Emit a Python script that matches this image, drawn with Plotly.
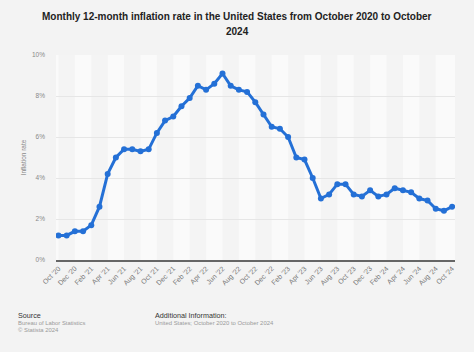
import plotly.graph_objects as go

months = ["Oct '20","Nov '20","Dec '20","Jan '21","Feb '21","Mar '21","Apr '21","May '21","Jun '21","Jul '21","Aug '21","Sep '21",
          "Oct '21","Nov '21","Dec '21","Jan '22","Feb '22","Mar '22","Apr '22","May '22","Jun '22","Jul '22","Aug '22","Sep '22",
          "Oct '22","Nov '22","Dec '22","Jan '23","Feb '23","Mar '23","Apr '23","May '23","Jun '23","Jul '23","Aug '23","Sep '23",
          "Oct '23","Nov '23","Dec '23","Jan '24","Feb '24","Mar '24","Apr '24","May '24","Jun '24","Jul '24","Aug '24","Sep '24","Oct '24"]
rates = [1.2,1.2,1.4,1.4,1.7,2.6,4.2,5.0,5.4,5.4,5.3,5.4,
         6.2,6.8,7.0,7.5,7.9,8.5,8.3,8.6,9.1,8.5,8.3,8.2,
         7.7,7.1,6.5,6.4,6.0,5.0,4.9,4.0,3.0,3.2,3.7,3.7,
         3.2,3.1,3.4,3.1,3.2,3.5,3.4,3.3,3.0,2.9,2.5,2.4,2.6]
y_ticks = [0,2,4,6,8,10]
y_labels = ["0%","2%","4%","6%","8%","10%"]

xs = list(range(len(months)))
tickvals = xs[::2]
ticktext = months[::2]

FONT = "Liberation Sans, Arial, sans-serif"
L, R, T, B = 56, 19, 55, 92
W, H = 474, 352

fig = go.Figure()
shapes = []
for i in range(0, len(months) - 1, 2):
    if (i // 2) % 2 == 0:
        shapes.append(dict(type="rect", xref="x", yref="paper", x0=i, x1=i + 2, y0=0, y1=1,
                           fillcolor="#f4f4f4", line=dict(width=0), layer="below"))
fig.add_trace(go.Scatter(x=xs, y=rates, mode="lines+markers",
                         line=dict(color="#2470d6", width=3),
                         marker=dict(color="#2470d6", size=6),
                         hoverinfo="skip"))

def px(xp, yp):
    pw = W - L - R
    ph = H - T - B
    return (xp - L) / pw, (H - B - yp) / ph

anns = []
for text, xp, yp, col, sz in [
    ("Source", 16, 315, "#333333", 7.2),
    ("Bureau of Labor Statistics", 16, 323, "#9a9a9a", 5.9),
    ("© Statista 2024", 16, 330, "#9a9a9a", 5.9),
    ("Additional Information:", 153, 315, "#333333", 7.2),
    ("United States; October 2020 to October 2024", 153, 323, "#9a9a9a", 5.9),
]:
    xx, yy = px(xp, yp)
    anns.append(dict(text=text, x=xx, y=yy, xref="paper", yref="paper",
                     xanchor="left", yanchor="middle", showarrow=False,
                     font=dict(size=sz, color=col, family=FONT)))
for text, yp in [("<b>Monthly 12-month inflation rate in the United States from October 2020 to October</b>", 16.5),
                 ("<b>2024</b>", 31.5)]:
    xx, yy = px(W / 2, yp)
    anns.append(dict(text=text, x=xx, y=yy, xref="paper", yref="paper",
                     xanchor="center", yanchor="middle", showarrow=False,
                     font=dict(size=10.0, color="#222222", family=FONT)))

fig.update_layout(
    width=W, height=H,
    margin=dict(l=L, r=R, t=T, b=B),
    paper_bgcolor="#f3f3f3", plot_bgcolor="#fafafa",
    showlegend=False,
    shapes=shapes,
    annotations=anns,
    font=dict(family=FONT, color="#666666"),
    xaxis=dict(range=[-0.3, 48.35], tickvals=tickvals, ticktext=ticktext, tickangle=-45,
               tickfont=dict(size=7, color="#777777"), showgrid=False, zeroline=False,
               showline=True, linecolor="#666666", linewidth=1.5, ticks=""),
    yaxis=dict(range=[0, 10], tickvals=y_ticks, ticktext=y_labels, tickfont=dict(size=6.5, color="#888888"),
               showgrid=True, gridcolor="#e6e6e6", gridwidth=1, zeroline=False, ticks="",
               ticklabelstandoff=10,
               title=dict(text="Inflation rate", font=dict(size=6.5, color="#888888"), standoff=4)),
)
fig.write_html("out.html")
